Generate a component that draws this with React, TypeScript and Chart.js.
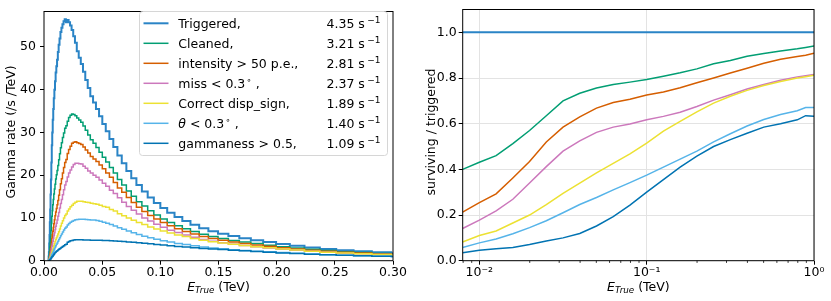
import React, { useEffect, useRef } from "react";
import { Chart, registerables } from "chart.js";

Chart.register(...registerables);

const FONT = '"DejaVu Sans", "Liberation Sans", sans-serif';
const FS = 12.5;

// ---------- series info (legend) ----------
const seriesNames = [
  "Triggered,",
  "Cleaned,",
  "intensity > 50 p.e.,",
  "miss < 0.3° ,",
  "Correct disp_sign,",
  "θ < 0.3° ,",
  "gammaness > 0.5,",
];
const seriesRates = ["4.35", "3.21", "2.81", "2.37", "1.89", "1.40", "1.09"];
const seriesColors = ["#2a84c6", "#029e73", "#d55e00", "#cc78bc", "#ece133", "#56b4e9", "#0173b2"];
const seriesWidths = [2, 1.5, 1.5, 1.5, 1.5, 1.5, 1.5];

// ---------- left panel: gamma rate histogram (/s /TeV) ----------
const binEdges = [
  0.003981, 0.004217, 0.004467, 0.004732, 0.005012, 0.005309, 0.005623, 0.005957, 0.00631, 0.006683,
  0.00708, 0.0075, 0.007943, 0.008414, 0.008913, 0.009441, 0.01, 0.01059, 0.01122, 0.01189,
  0.01259, 0.01334, 0.01413, 0.01496, 0.01585, 0.01679, 0.01778, 0.01884, 0.01995, 0.02113,
  0.02239, 0.02371, 0.02512, 0.02661, 0.02818, 0.02985, 0.03162, 0.0335, 0.03548, 0.03758,
  0.03981, 0.04217, 0.04467, 0.04732, 0.05012, 0.05309, 0.05623, 0.05957, 0.0631, 0.06683,
  0.0708, 0.075, 0.07943, 0.08414, 0.08913, 0.09441, 0.1, 0.1059, 0.1122, 0.1189,
  0.1259, 0.1334, 0.1413, 0.1496, 0.1585, 0.1679, 0.1778, 0.1884, 0.1995, 0.2113,
  0.2239, 0.2371, 0.2512, 0.2661, 0.2818, 0.2985, 0.3162,
];
const rateTriggered = [
  1, 2, 4, 6, 9, 12, 15.5, 19, 23, 27,
  30, 33, 35.5, 38, 40, 42, 44, 45.5, 47, 48.8,
  50.5, 52, 53.5, 54.5, 55.3, 56, 56.5, 55.8, 56.3, 55.8,
  55, 54, 52.5, 51, 49, 47.5, 46, 44.2, 42.3, 40.4,
  38.5, 37, 35.5, 33.8, 32, 30.3, 28.5, 26.6, 24.6, 22.8,
  21, 19.3, 17.7, 16.2, 14.8, 13.5, 12.3, 11.2, 10.2, 9.3,
  8.4, 7.6, 6.9, 6.3, 5.75, 5.25, 4.8, 4.35, 3.9, 3.5,
  3.1, 2.75, 2.45, 2.2, 1.95, 1.75,
];
const rateCleaned = [
  0.33, 0.68, 1.37, 2.09, 3.18, 4.31, 5.67, 7.07, 8.69, 10.4,
  11.7, 13.1, 14.3, 15.6, 16.8, 17.9, 19.1, 20.1, 21.1, 22.3,
  23.6, 25.0, 26.4, 27.6, 28.8, 29.9, 31.0, 31.6, 32.6, 33.5,
  34.0, 34.3, 34.2, 33.9, 33.4, 32.9, 32.4, 31.5, 30.5, 29.4,
  28.3, 27.5, 26.5, 25.4, 24.2, 23.1, 21.8, 20.5, 19.0, 17.7,
  16.3, 15.1, 13.8, 12.8, 11.7, 10.7, 9.78, 8.95, 8.18, 7.49,
  6.81, 6.19, 5.64, 5.17, 4.74, 4.35, 4.0, 3.64, 3.29, 2.97,
  2.65, 2.36, 2.12, 1.91, 1.70, 1.53,
];
const rateIntensity = [
  0.14, 0.30, 0.61, 0.95, 1.47, 2.03, 2.73, 3.46, 4.34, 5.28,
  6.08, 6.91, 7.74, 8.66, 9.56, 10.5, 11.4, 12.2, 13.1, 14.1,
  15.3, 16.6, 18.0, 19.2, 20.5, 21.8, 23.0, 23.7, 25.1, 26.0,
  26.8, 27.5, 27.7, 27.8, 27.6, 27.4, 27.2, 26.6, 25.9, 25.2,
  24.4, 23.8, 23.2, 22.4, 21.5, 20.5, 19.5, 18.3, 17.0, 16.0,
  14.8, 13.6, 12.5, 11.5, 10.6, 9.78, 8.96, 8.18, 7.49, 6.85,
  6.22, 5.67, 5.18, 4.76, 4.37, 4.01, 3.70, 3.38, 3.05, 2.75,
  2.46, 2.19, 1.97, 1.78, 1.59, 1.43,
];
const rateMiss = [
  0.08, 0.17, 0.35, 0.56, 0.88, 1.23, 1.67, 2.14, 2.71, 3.38,
  3.93, 4.55, 5.18, 5.89, 6.56, 7.27, 8.05, 8.78, 9.54, 10.4,
  11.3, 12.3, 13.4, 14.3, 15.4, 16.6, 17.7, 18.5, 19.6, 20.5,
  21.2, 21.9, 22.5, 22.8, 22.8, 22.7, 22.6, 22.1, 21.6, 21.0,
  20.5, 20.0, 19.5, 18.9, 18.1, 17.4, 16.5, 15.7, 14.7, 13.7,
  12.7, 11.8, 10.9, 10.0, 9.26, 8.53, 7.83, 7.15, 6.57, 6.01,
  5.47, 4.98, 4.54, 4.18, 3.84, 3.54, 3.26, 2.97, 2.70, 2.45,
  2.19, 1.96, 1.76, 1.60, 1.43, 1.28,
];
const rateDispSign = [
  0.05, 0.10, 0.20, 0.32, 0.51, 0.72, 0.98, 1.25, 1.61, 1.97,
  2.31, 2.64, 3.04, 3.52, 3.98, 4.47, 4.95, 5.35, 5.76, 6.22,
  6.77, 7.44, 8.13, 8.77, 9.35, 9.97, 10.6, 10.9, 11.6, 12.1,
  12.6, 13.0, 13.4, 13.7, 13.9, 13.9, 13.9, 13.8, 13.7, 13.6,
  13.45, 13.3, 13.2, 13.0, 12.7, 12.5, 12.0, 11.6, 11.0, 10.5,
  10.0, 9.49, 8.96, 8.44, 7.9, 7.42, 6.93, 6.49, 6.04, 5.65,
  5.22, 4.81, 4.45, 4.13, 3.82, 3.54, 3.27, 3.01, 2.73, 2.48,
  2.22, 1.99, 1.78, 1.61, 1.44, 1.29,
];
const rateTheta = [
  0.03, 0.07, 0.14, 0.22, 0.35, 0.49, 0.68, 0.87, 1.10, 1.38,
  1.62, 1.88, 2.15, 2.49, 2.82, 3.17, 3.52, 3.84, 4.16, 4.53,
  4.94, 5.39, 5.85, 6.27, 6.71, 7.17, 7.62, 7.90, 8.38, 8.72,
  9.01, 9.25, 9.42, 9.59, 9.65, 9.68, 9.7, 9.68, 9.65, 9.6,
  9.55, 9.5, 9.4, 9.25, 8.99, 8.78, 8.48, 8.14, 7.73, 7.34,
  6.94, 6.53, 6.13, 5.74, 5.36, 5.01, 4.66, 4.35, 4.05, 3.77,
  3.48, 3.21, 2.98, 2.78, 2.58, 2.40, 2.24, 2.07, 1.89, 1.73,
  1.57, 1.41, 1.28, 1.18, 1.06, 0.96,
];
const rateGammaness = [
  0.02, 0.04, 0.08, 0.13, 0.21, 0.30, 0.40, 0.51, 0.67, 0.84,
  0.96, 1.12, 1.28, 1.48, 1.68, 1.89, 2.06, 2.20, 2.34, 2.50,
  2.67, 2.82, 2.99, 3.12, 3.30, 3.52, 3.73, 3.87, 4.3, 4.5,
  4.65, 4.75, 4.85, 4.9, 4.9, 4.9, 4.88, 4.86, 4.84, 4.82,
  4.8, 4.8, 4.8, 4.78, 4.75, 4.72, 4.68, 4.62, 4.55, 4.48,
  4.4, 4.3, 4.2, 4.1, 3.95, 3.8, 3.65, 3.5, 3.35, 3.2,
  3.02, 2.86, 2.72, 2.6, 2.45, 2.32, 2.17, 2.0, 1.82, 1.66,
  1.5, 1.37, 1.25, 1.16, 1.06, 0.99,
];

// ---------- right panel: surviving / triggered ----------
const ratioEnergy = [
  0.00794, 0.01, 0.01259, 0.01585, 0.01995, 0.02512, 0.03162, 0.03981, 0.05012, 0.0631,
  0.07943, 0.1, 0.1259, 0.1585, 0.1995, 0.2512, 0.3162, 0.3981, 0.5012, 0.631,
  0.7943, 0.8913, 1.0,
];
const ratioTriggeredEnergy = [0.0079, 1.0];
const ratioTriggered = [1.0, 1.0];
const ratioCleaned = [
  0.40, 0.431, 0.46, 0.513, 0.57, 0.635, 0.70, 0.733, 0.756, 0.772,
  0.782, 0.793, 0.808, 0.823, 0.84, 0.862, 0.877, 0.895, 0.907, 0.918,
  0.928, 0.934, 0.94,
];
const ratioIntensity = [
  0.213, 0.254, 0.293, 0.362, 0.434, 0.52, 0.585, 0.63, 0.668, 0.693,
  0.707, 0.726, 0.739, 0.757, 0.779, 0.80, 0.822, 0.843, 0.865, 0.882,
  0.894, 0.90, 0.908,
];
const ratioMiss = [
  0.141, 0.178, 0.218, 0.269, 0.34, 0.412, 0.48, 0.525, 0.562, 0.585,
  0.599, 0.617, 0.632, 0.65, 0.675, 0.703, 0.727, 0.752, 0.772, 0.79,
  0.805, 0.81, 0.815,
];
const ratioDispSign = [
  0.082, 0.11, 0.13, 0.165, 0.20, 0.246, 0.295, 0.34, 0.385, 0.426,
  0.468, 0.515, 0.567, 0.61, 0.652, 0.69, 0.72, 0.746, 0.767, 0.785,
  0.80, 0.806, 0.812,
];
const ratioTheta = [
  0.058, 0.078, 0.095, 0.118, 0.145, 0.175, 0.21, 0.246, 0.277, 0.31,
  0.342, 0.375, 0.41, 0.445, 0.48, 0.52, 0.556, 0.59, 0.618, 0.64,
  0.657, 0.671, 0.671,
];
const ratioGammaness = [
  0.035, 0.046, 0.052, 0.058, 0.071, 0.086, 0.10, 0.119, 0.152, 0.193,
  0.243, 0.30, 0.355, 0.41, 0.458, 0.50, 0.53, 0.558, 0.585, 0.60,
  0.617, 0.635, 0.632,
];

// ---------- ticks ----------
const leftXTicks = [0, 0.05, 0.1, 0.15, 0.2, 0.25, 0.3];
const leftYTicks = [0, 10, 20, 30, 40, 50];
const rightXTicks = [0.01, 0.1, 1];
const rightXTickLabels = ["10⁻²", "10⁻¹", "10⁰"];
const rightYTicks = [0, 0.2, 0.4, 0.6, 0.8, 1.0];

// ---------- drawing helpers ----------
function drawRich(ctx: CanvasRenderingContext2D, text: string, x: number, y: number, size: number) {
  let cx = x;
  let buf = "";
  const flush = () => {
    if (!buf) return;
    ctx.font = `${size}px ${FONT}`;
    ctx.fillText(buf, cx, y);
    cx += ctx.measureText(buf).width;
    buf = "";
  };
  for (const ch of text) {
    if (ch === "°") {
      flush();
      ctx.font = `${size * 0.7}px ${FONT}`;
      ctx.fillText("∘", cx + 1, y - size * 0.42);
      cx += ctx.measureText("∘").width + 1;
    } else if (ch === "θ") {
      flush();
      ctx.font = `italic ${size}px ${FONT}`;
      ctx.fillText("θ", cx, y);
      cx += ctx.measureText("θ").width;
    } else {
      buf += ch;
    }
  }
  flush();
  return cx;
}

function drawETitle(ctx: CanvasRenderingContext2D, cx: number, baseline: number) {
  ctx.save();
  ctx.fillStyle = "#000";
  ctx.textBaseline = "alphabetic";
  ctx.textAlign = "left";
  const fBig = `italic ${FS}px ${FONT}`;
  const fSub = `italic ${FS * 0.7}px ${FONT}`;
  const fNorm = `${FS}px ${FONT}`;
  ctx.font = fBig;
  const w1 = ctx.measureText("E").width;
  ctx.font = fSub;
  const w2 = ctx.measureText("True").width;
  ctx.font = fNorm;
  const w3 = ctx.measureText(" (TeV)").width;
  let x = cx - (w1 + w2 + w3) / 2;
  ctx.font = fBig;
  ctx.fillText("E", x, baseline);
  x += w1;
  ctx.font = fSub;
  ctx.fillText("True", x, baseline + 2.5);
  x += w2;
  ctx.font = fNorm;
  ctx.fillText(" (TeV)", x, baseline);
  ctx.restore();
}

function drawYTitle(ctx: CanvasRenderingContext2D, text: string, x: number, cy: number) {
  ctx.save();
  ctx.translate(x, cy);
  ctx.rotate(-Math.PI / 2);
  ctx.fillStyle = "#000";
  ctx.font = `${FS}px ${FONT}`;
  ctx.textAlign = "center";
  ctx.textBaseline = "alphabetic";
  ctx.fillText(text, 0, 0);
  ctx.restore();
}

function drawFrame(chart: any) {
  const { ctx, chartArea } = chart;
  ctx.save();
  ctx.strokeStyle = "#000";
  ctx.lineWidth = 1;
  ctx.strokeRect(chartArea.left, chartArea.top, chartArea.right - chartArea.left, chartArea.bottom - chartArea.top);
  ctx.restore();
}

function histPoints(vals: number[]) {
  const pts = [{ x: binEdges[0], y: 0 }];
  vals.forEach((v, i) => pts.push({ x: binEdges[i], y: v }));
  pts.push({ x: binEdges[vals.length], y: 0 });
  return pts;
}

const tickFont = { family: FONT, size: FS };

function leftConfig(): any {
  const rates = [rateTriggered, rateCleaned, rateIntensity, rateMiss, rateDispSign, rateTheta, rateGammaness];
  const plugin = {
    id: "leftDecor",
    afterDraw(chart: any) {
      const ctx = chart.ctx as CanvasRenderingContext2D;
      drawFrame(chart);
      drawYTitle(ctx, "Gamma rate (/s /TeV)", 15, 132);
      const ca = chart.chartArea;
      drawETitle(ctx, (ca.left + ca.right) / 2, 290.5);
      // legend
      ctx.save();
      const bx = 139.5, by = 11.5, bw = 248, bh = 144, r = 3;
      ctx.beginPath();
      ctx.moveTo(bx + r, by);
      ctx.arcTo(bx + bw, by, bx + bw, by + bh, r);
      ctx.arcTo(bx + bw, by + bh, bx, by + bh, r);
      ctx.arcTo(bx, by + bh, bx, by, r);
      ctx.arcTo(bx, by, bx + bw, by, r);
      ctx.closePath();
      ctx.fillStyle = "rgba(255,255,255,0.8)";
      ctx.fill();
      ctx.strokeStyle = "#d6d6d6";
      ctx.lineWidth = 1;
      ctx.stroke();
      ctx.textBaseline = "alphabetic";
      ctx.textAlign = "left";
      ctx.fillStyle = "#000";
      seriesNames.forEach((name, k) => {
        const cy = 23.3 + 20 * k;
        ctx.strokeStyle = seriesColors[k];
        ctx.lineWidth = seriesWidths[k];
        ctx.beginPath();
        ctx.moveTo(143.5, cy);
        ctx.lineTo(168.5, cy);
        ctx.stroke();
        const base = cy + 4.6;
        drawRich(ctx, name, 178.3, base, FS);
        ctx.font = `${FS}px ${FONT}`;
        const t = seriesRates[k] + " s";
        ctx.fillText(t, 326.5, base);
        const w = ctx.measureText(t).width;
        ctx.font = `${FS * 0.72}px ${FONT}`;
        ctx.fillText("−1", 326.5 + w + 2.5, base - 5);
      });
      ctx.restore();
    },
  };
  return {
    type: "line",
    data: {
      datasets: rates.map((vals, i) => ({
        data: histPoints(vals),
        borderColor: seriesColors[i],
        borderWidth: seriesWidths[i],
        pointRadius: 0,
        fill: false,
        stepped: true,
        order: rates.length - 1 - i,
      })),
    },
    options: {
      animation: false,
      responsive: false,
      devicePixelRatio: 1,
      layout: { padding: { left: 0, right: 22, top: 4, bottom: 0 } },
      plugins: { legend: { display: false }, tooltip: { enabled: false } },
      scales: {
        x: {
          type: "linear",
          min: 0,
          max: 0.3,
          afterBuildTicks: (s: any) => { s.ticks = leftXTicks.map((v) => ({ value: v })); },
          afterFit: (s: any) => { s.height = 40.3; },
          ticks: { font: tickFont, color: "#000", padding: 1, maxRotation: 0, autoSkip: false, callback: (v: any) => Number(v).toFixed(2) },
          grid: { drawOnChartArea: false, tickLength: 4, tickColor: "#000" },
          border: { display: false },
        },
        y: {
          type: "linear",
          min: 0,
          max: 58.3,
          afterBuildTicks: (s: any) => { s.ticks = leftYTicks.map((v) => ({ value: v })); },
          afterFit: (s: any) => { s.width = 44; },
          ticks: { font: tickFont, color: "#000", padding: 4, callback: (v: any) => String(v) },
          grid: { drawOnChartArea: false, tickLength: 4, tickColor: "#000" },
          border: { display: false },
        },
      },
    },
    plugins: [plugin],
  };
}

function rightConfig(): any {
  const ratios = [ratioCleaned, ratioIntensity, ratioMiss, ratioDispSign, ratioTheta, ratioGammaness];
  const plugin = {
    id: "rightDecor",
    afterDraw(chart: any) {
      const ctx = chart.ctx as CanvasRenderingContext2D;
      const ca = chart.chartArea;
      const xs = chart.scales.x;
      ctx.save();
      ctx.strokeStyle = "#000";
      ctx.lineWidth = 0.8;
      for (let k = -3; k <= 0; k++) {
        for (let m = 2; m <= 9; m++) {
          const v = m * Math.pow(10, k);
          if (v < xs.min || v > xs.max) continue;
          const px = xs.getPixelForValue(v);
          ctx.beginPath();
          ctx.moveTo(px, ca.bottom);
          ctx.lineTo(px, ca.bottom + 2.2);
          ctx.stroke();
        }
      }
      ctx.restore();
      drawFrame(chart);
      drawYTitle(ctx, "surviving / triggered", 19.5, 132);
      drawETitle(ctx, (ca.left + ca.right) / 2, 290.5);
    },
  };
  const datasets: any[] = [
    {
      data: ratioTriggeredEnergy.map((e, i) => ({ x: e, y: ratioTriggered[i] })),
      borderColor: seriesColors[0],
      borderWidth: 2,
      pointRadius: 0,
      fill: false,
      order: 6,
    },
    ...ratios.map((vals, i) => ({
      data: ratioEnergy.map((e, j) => ({ x: e, y: vals[j] })),
      borderColor: seriesColors[i + 1],
      borderWidth: 1.5,
      pointRadius: 0,
      fill: false,
      order: 5 - i,
    })),
  ];
  return {
    type: "line",
    data: { datasets },
    options: {
      animation: false,
      responsive: false,
      devicePixelRatio: 1,
      layout: { padding: { left: 0, right: 17, top: 4.7, bottom: 0 } },
      plugins: { legend: { display: false }, tooltip: { enabled: false } },
      scales: {
        x: {
          type: "logarithmic",
          min: 0.00795,
          max: 1,
          afterBuildTicks: (s: any) => { s.ticks = rightXTicks.map((v) => ({ value: v })); },
          afterFit: (s: any) => { s.height = 40.3; },
          ticks: {
            font: tickFont,
            color: "#000",
            padding: 1,
            maxRotation: 0,
            autoSkip: false,
            callback: (v: any) => {
              const idx = rightXTicks.indexOf(Number(v));
              return idx >= 0 ? rightXTickLabels[idx] : "";
            },
          },
          grid: { color: "#e3e3e3", lineWidth: 1, tickLength: 4, tickColor: "#000" },
          border: { display: false },
        },
        y: {
          type: "linear",
          min: 0,
          max: 1.1,
          afterBuildTicks: (s: any) => { s.ticks = rightYTicks.map((v) => ({ value: v })); },
          afterFit: (s: any) => { s.width = 47.7; },
          ticks: { font: tickFont, color: "#000", padding: 2, callback: (v: any) => Number(v).toFixed(1) },
          grid: { color: "#e3e3e3", lineWidth: 1, tickLength: 4, tickColor: "#000" },
          border: { display: false },
        },
      },
    },
    plugins: [plugin],
  };
}

function ChartCanvas({ make, left, width, height }: { make: () => any; left: number; width: number; height: number }) {
  const ref = useRef<HTMLCanvasElement>(null);
  useEffect(() => {
    const chart = new Chart(ref.current as HTMLCanvasElement, make());
    return () => chart.destroy();
  }, []);
  return (
    <canvas
      ref={ref}
      width={width}
      height={height}
      style={{ position: "absolute", left, top: 0, width, height }}
    />
  );
}

export default function App() {
  return (
    <div style={{ position: "absolute", left: 0, top: 0, width: 831, height: 301, background: "#fff", overflow: "hidden" }}>
      <ChartCanvas make={leftConfig} left={0} width={415} height={301} />
      <ChartCanvas make={rightConfig} left={415} width={416} height={301} />
    </div>
  );
}
